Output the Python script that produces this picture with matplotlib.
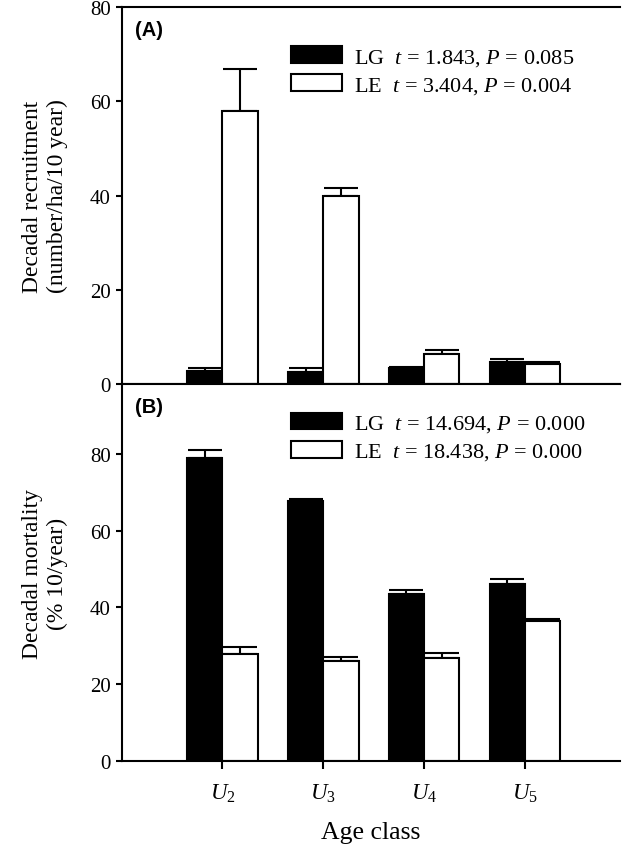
import matplotlib
matplotlib.use("Agg")
import matplotlib.pyplot as plt
import numpy as np

plt.rcParams['font.family'] = ['Liberation Serif', 'DejaVu Serif']
plt.rcParams['mathtext.fontset'] = 'custom'
plt.rcParams['mathtext.rm'] = 'Liberation Serif'
plt.rcParams['mathtext.it'] = 'Liberation Serif:italic'
plt.rcParams['mathtext.bf'] = 'Liberation Serif:bold'

categories = [r'$U_2$', r'$U_3$', r'$U_4$', r'$U_5$']
rec_lg = [2.8, 2.5, 3.4, 4.6]
rec_lg_err = [0.5, 0.8, 0.2, 0.7]
rec_le = [58.0, 39.9, 6.4, 4.2]
rec_le_err = [8.9, 1.6, 0.9, 0.5]
mort_lg = [79.0, 67.7, 43.4, 46.1]
mort_lg_err = [1.9, 0.6, 1.1, 1.2]
mort_le = [27.8, 26.1, 26.8, 36.4]
mort_le_err = [1.8, 0.9, 1.4, 0.6]
legend_a = [r'LG  $t$ = 1.843, $P$ = 0.085', r'LE  $t$ = 3.404, $P$ = 0.004']
legend_b = [r'LG  $t$ = 14.694, $P$ = 0.000', r'LE  $t$ = 18.438, $P$ = 0.000']

fig = plt.figure(figsize=(6.28, 8.45), dpi=100)
axA = fig.add_axes([0.195, 0.5444, 0.792, 0.4461])
axB = fig.add_axes([0.195, 0.0982, 0.792, 0.4462])

x = np.arange(1, len(categories) + 1)
w = 0.35
lw = 1.5

def draw(ax, lg, lge, le, lee, ylim, labels, lab_tag, ylabel, anchor_y):
    b1 = ax.bar(x - w / 2, lg, w, color='black', edgecolor='black', linewidth=lw, zorder=2)
    b2 = ax.bar(x + w / 2, le, w, color='white', edgecolor='black', linewidth=lw, zorder=2)
    ax.errorbar(x - w / 2, lg, yerr=[np.zeros(len(lg)), lge], fmt='none', ecolor='black',
                elinewidth=lw, capsize=12, capthick=lw, zorder=1)
    ax.errorbar(x + w / 2, le, yerr=[np.zeros(len(le)), lee], fmt='none', ecolor='black',
                elinewidth=lw, capsize=12, capthick=lw, zorder=1)
    ax.set_xlim(0.01, 4.94)
    ax.set_ylim(*ylim)
    ax.set_yticks([0, 20, 40, 60, 80])
    ax.set_xticks(x)
    for s in ['left', 'bottom', 'top']:
        ax.spines[s].set_linewidth(lw)
    ax.spines['right'].set_visible(False)
    ax.tick_params(axis='y', direction='out', length=4.5, width=lw, labelsize=15, pad=4)
    ax.tick_params(axis='x', direction='out', length=6, width=lw)
    ax.set_ylabel(ylabel, fontsize=17, linespacing=1.2, labelpad=16)
    ax.text(0.025, 0.965, lab_tag, transform=ax.transAxes, fontsize=14.5, fontweight='bold',
            family='Liberation Sans', va='top', ha='left')
    ax.legend([b1, b2], labels, loc='upper left', bbox_to_anchor=(0.32, anchor_y),
              frameon=False, fontsize=16, handlelength=2.3, handleheight=0.77,
              handletextpad=0.55, labelspacing=0.3, borderaxespad=0)

draw(axA, rec_lg, rec_lg_err, rec_le, rec_le_err, (0, 80), legend_a, '(A)',
     'Decadal recruitment\n(number/ha/10 year)', 0.92)
draw(axB, mort_lg, mort_lg_err, mort_le, mort_le_err, (0, 98.2), legend_b, '(B)',
     'Decadal mortality\n(% 10/year)', 0.947)
axA.set_xticklabels([])
axB.set_xticklabels(categories, fontsize=16.5)
axB.tick_params(axis='x', pad=9)
axB.set_xlabel('Age class', fontsize=18.5, labelpad=12)

fig.savefig('out.png', dpi=100)
